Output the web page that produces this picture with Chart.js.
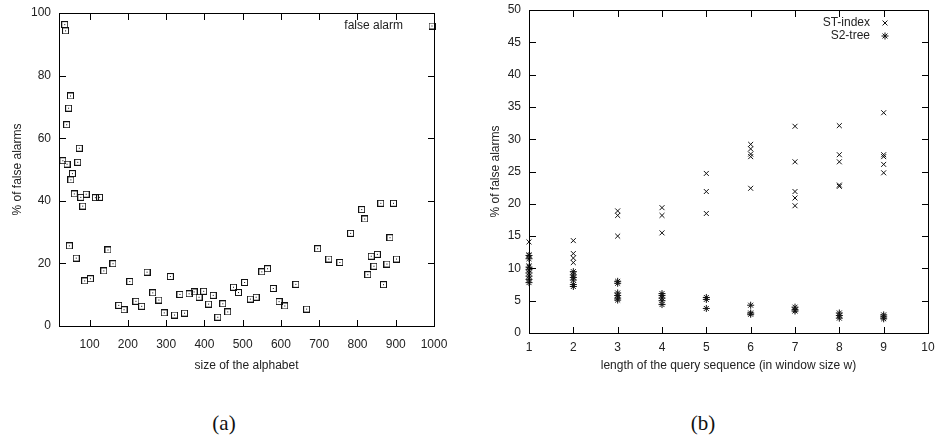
<!DOCTYPE html>
<html>
<head>
<meta charset="utf-8">
<script src="https://cdn.jsdelivr.net/npm/chart.js@4/dist/chart.umd.min.js"></script>
<style>
  body { margin: 0; background: #fff; width: 937px; height: 441px; position: relative; overflow: hidden; }
  canvas { position: absolute; top: 0; }
  #chartA { left: 0; }
  #chartB { left: 470px; }
  .cap { position: absolute; font-family: "Liberation Serif", "DejaVu Serif", serif; font-size: 21px; color: #111; transform: translate(-50%, -50%); }
  .frame { position: absolute; box-sizing: border-box; border: 1px solid #000; }
  .tick { position: absolute; background: #000; }
</style>
</head>
<body>
<canvas id="chartA" width="450" height="380"></canvas>
<canvas id="chartB" width="467" height="380"></canvas>
<div class="cap" style="left:224px;top:423px">(a)</div>
<div class="cap" style="left:703px;top:423px">(b)</div>
<script>
// (a) false alarms vs size of the alphabet
const alphabetSize = [35, 37, 50, 45, 40, 73, 30, 41, 69, 55, 51, 60, 77, 82, 91, 115, 126,
  47, 65, 87, 102, 137, 148, 161, 176, 190, 205, 221, 236, 250, 265, 281, 295, 311, 322,
  336, 348, 360, 373, 386, 398, 411, 423, 435, 448, 461, 476, 489, 505, 520, 535, 550,
  565, 580, 595, 610, 639, 667, 696, 725, 754, 782, 811, 819, 827, 836, 843, 852, 861,
  868, 877, 885, 894, 902];
const falseAlarmPct = [96.3, 94.3, 73.5, 69.6, 64.3, 56.8, 52.8, 51.7, 52.3, 48.7, 46.7, 42.2, 41.1, 38.3, 42.1, 41.0, 41.1,
  25.6, 21.7, 14.4, 15.1, 17.6, 24.3, 19.9, 6.6, 5.2, 14.2, 7.9, 6.3, 17.2, 10.6, 8.3, 4.2, 15.8, 3.5,
  10.1, 4.1, 10.3, 10.9, 9.2, 11.1, 7.0, 9.8, 2.8, 7.1, 4.5, 12.4, 10.7, 13.9, 8.6, 9.2, 17.3,
  18.3, 12.0, 7.8, 6.4, 13.3, 5.4, 24.7, 21.4, 20.3, 29.6, 37.2, 34.2, 16.4, 22.3, 19.1, 22.9, 39.2,
  13.2, 19.8, 28.2, 39.2, 21.4];
const alphabetTicks = [100, 200, 300, 400, 500, 600, 700, 800, 900, 1000];
const pctTicksA = [0, 20, 40, 60, 80, 100];

// (b) false alarms vs query length
const stIndexX = [1, 1, 1, 2, 2, 2, 2, 3, 3, 3, 4, 4, 4, 5, 5, 5, 6, 6, 6, 6, 6,
  7, 7, 7, 7, 7, 8, 8, 8, 8, 8, 9, 9, 9, 9, 9];
const stIndexY = [14.1, 12.1, 10.4, 14.3, 12.3, 11.6, 10.9, 18.9, 18.2, 15.0, 19.4, 18.2, 15.5,
  24.7, 21.9, 18.5, 29.2, 28.5, 27.7, 27.3, 22.4, 32.0, 26.5, 21.9, 20.9, 19.7,
  32.1, 27.6, 26.5, 22.9, 22.7, 34.1, 27.6, 27.3, 26.1, 24.8];
const s2TreeX = [1, 1, 1, 1, 1, 1, 1, 1, 2, 2, 2, 2, 2, 2, 3, 3, 3, 3, 3, 3, 4, 4, 4, 4, 4,
  5, 5, 5, 6, 6, 6, 7, 7, 7, 8, 8, 8, 9, 9, 9];
const s2TreeY = [12.0, 11.5, 10.2, 9.8, 9.3, 8.8, 8.3, 7.8, 9.5, 9.0, 8.6, 8.2, 7.5, 7.2,
  8.0, 7.7, 6.2, 5.8, 5.4, 5.1, 6.1, 5.8, 5.4, 5.0, 4.4,
  5.5, 5.2, 3.8, 4.3, 3.1, 2.9, 4.0, 3.6, 3.4, 3.1, 2.7, 2.3, 2.8, 2.5, 2.2];
const lengthTicks = [1, 2, 3, 4, 5, 6, 7, 8, 9, 10];
const pctTicksB = [0, 5, 10, 15, 20, 25, 30, 35, 40, 45, 50];

const ink = '#111';
const labelFont = { family: '"Liberation Sans", Arial, sans-serif', size: 12 };

// gnuplot style box with a dot in the middle
const boxDot = document.createElement('canvas');
boxDot.width = 7;
boxDot.height = 7;
const bctx = boxDot.getContext('2d');
bctx.strokeStyle = ink;
bctx.lineWidth = 1;
bctx.strokeRect(0.5, 0.5, 6, 6);
bctx.fillStyle = ink;
bctx.fillRect(3, 3, 1, 1);

// key inside the plot: text right-aligned, then the marker
function keyPlugin(name, key) {
  return {
    id: 'key' + name,
    afterDatasetsDraw(chart) {
      const ctx = chart.ctx;
      const a = chart.chartArea;
      ctx.save();
      ctx.font = '12px "Liberation Sans", Arial, sans-serif';
      ctx.textAlign = 'right';
      ctx.textBaseline = 'middle';
      chart.data.datasets.forEach((ds, i) => {
        const y = a.top + key.top + i * 13;
        ctx.fillStyle = '#222';
        ctx.fillText(ds.label, a.right - key.textRight, y);
        ctx.strokeStyle = ink;
        ctx.fillStyle = ink;
        ctx.lineWidth = 1;
        Chart.helpers.drawPoint(ctx, { pointStyle: ds.pointStyle, radius: ds.pointRadius, borderWidth: 1, rotation: 0 },
          a.right - key.markRight, y);
      });
      ctx.restore();
    }
  };
}

// frame and inward ticks on all four sides, placed from the chart's own scales
function addFrame(chart, offsetLeft) {
  const a = chart.chartArea;
  const xs = chart.scales.x, ys = chart.scales.y;
  const L = Math.round(a.left) + offsetLeft, R = Math.round(a.right) + offsetLeft;
  const T = Math.round(a.top), B = Math.round(a.bottom);
  const box = (cls, left, top, width, height) => {
    const d = document.createElement('div');
    d.className = cls;
    d.style.left = left + 'px';
    d.style.top = top + 'px';
    d.style.width = width + 'px';
    d.style.height = height + 'px';
    document.body.appendChild(d);
  };
  box('frame', L, T, R - L + 1, B - T + 1);
  xs.ticks.forEach((tk) => {
    const px = Math.round(xs.getPixelForValue(tk.value)) + offsetLeft;
    box('tick', px, B - 6, 1, 6);
    box('tick', px, T + 1, 1, 6);
  });
  ys.ticks.forEach((tk) => {
    const py = Math.round(ys.getPixelForValue(tk.value));
    box('tick', L + 1, py, 6, 1);
    box('tick', R - 6, py, 6, 1);
  });
}

const fixedTicks = (list) => (scale) => { scale.ticks = list.map((v) => ({ value: v })); };

function axes(xMin, xMax, xTicks, yMax, yTicks, xTitle, opt) {
  return {
    x: {
      type: 'linear', min: xMin, max: xMax,
      afterBuildTicks: fixedTicks(xTicks),
      afterFit: (s) => { s.height = opt.xHeight; s.paddingLeft = 0; s.paddingRight = 0; },
      grid: { display: false, drawTicks: false }, border: { display: false },
      ticks: { padding: opt.xPad, color: '#222', font: labelFont, maxRotation: 0, callback: (v) => String(v) },
      title: { display: true, text: xTitle, color: '#222', font: labelFont, padding: { top: 0, bottom: 7 } }
    },
    y: {
      min: 0, max: yMax,
      afterBuildTicks: fixedTicks(yTicks),
      afterFit: (s) => { s.width = 59; s.paddingTop = 0; s.paddingBottom = 0; },
      grid: { display: false, drawTicks: false }, border: { display: false },
      ticks: { padding: 8, color: '#222', font: labelFont, callback: (v) => String(v) },
      title: { display: true, text: '% of false alarms', color: '#222', font: labelFont, padding: { top: opt.yTitlePad, bottom: 0 } }
    }
  };
}

const chartA = new Chart(document.getElementById('chartA'), {
  type: 'scatter',
  data: {
    datasets: [{
      label: 'false alarm',
      data: alphabetSize.map((x, i) => ({ x: x, y: falseAlarmPct[i] })),
      pointStyle: boxDot,
      pointRadius: 3,
      borderColor: ink,
      clip: false
    }]
  },
  options: {
    responsive: false,
    animation: false,
    layout: { padding: { top: 13, right: 16, left: 0, bottom: 0 } },
    plugins: { legend: { display: false }, tooltip: { enabled: false } },
    scales: axes(20, 1000, alphabetTicks, 100, pctTicksA, 'size of the alphabet', { xHeight: 54, xPad: 11, yTitlePad: 10 })
  },
  plugins: [keyPlugin('A', { top: 13, textRight: 31, markRight: 2 })]
});

const chartB = new Chart(document.getElementById('chartB'), {
  type: 'scatter',
  data: {
    datasets: [
      {
        label: 'ST-index',
        data: stIndexX.map((x, i) => ({ x: x, y: stIndexY[i] })),
        pointStyle: 'crossRot',
        pointRadius: 3.5,
        pointBorderWidth: 1,
        borderColor: ink,
        backgroundColor: ink,
        clip: false
      },
      {
        label: 'S2-tree',
        data: s2TreeX.map((x, i) => ({ x: x, y: s2TreeY[i] })),
        pointStyle: 'star',
        pointRadius: 3.5,
        pointBorderWidth: 1,
        borderColor: ink,
        backgroundColor: ink,
        clip: false
      }
    ]
  },
  options: {
    responsive: false,
    animation: false,
    layout: { padding: { top: 10, right: 9, left: 0, bottom: 0 } },
    plugins: { legend: { display: false }, tooltip: { enabled: false } },
    scales: axes(1, 10, lengthTicks, 50, pctTicksB, 'length of the query sequence (in window size w)', { xHeight: 47, xPad: 7, yTitlePad: 18 })
  },
  plugins: [keyPlugin('B', { top: 13, textRight: 58, markRight: 43 })]
});

addFrame(chartA, 0);
addFrame(chartB, 470);
</script>
</body>
</html>
